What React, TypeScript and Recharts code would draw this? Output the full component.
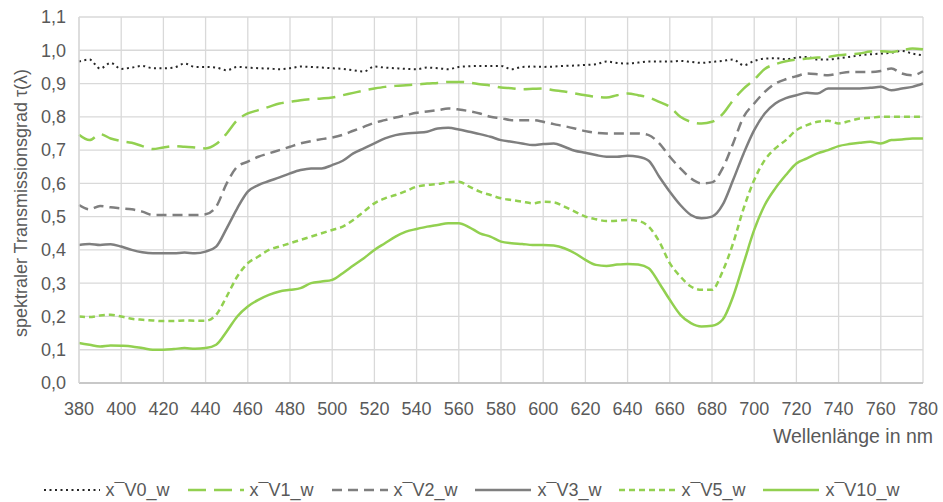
import { LineChart, Line, XAxis, YAxis, CartesianGrid, Label } from 'recharts'

const WAVELENGTHS = [
  380, 385, 390, 395, 400, 405, 410, 415, 420, 425, 430, 435, 440, 445, 450, 455, 460, 465, 470, 475,
  480, 485, 490, 495, 500, 505, 510, 515, 520, 525, 530, 535, 540, 545, 550, 555, 560, 565, 570, 575,
  580, 585, 590, 595, 600, 605, 610, 615, 620, 625, 630, 635, 640, 645, 650, 655, 660, 665, 670, 675,
  680, 685, 690, 695, 700, 705, 710, 715, 720, 725, 730, 735, 740, 745, 750, 755, 760, 765, 770, 775,
  780,
]

const V0 = [
  0.966, 0.972, 0.945, 0.962, 0.944, 0.948, 0.953, 0.946, 0.946, 0.948, 0.96, 0.95, 0.95, 0.948, 0.94, 0.95, 0.948, 0.946, 0.945, 0.943,
  0.946, 0.951, 0.95, 0.948, 0.946, 0.944, 0.94, 0.936, 0.951, 0.948, 0.946, 0.944, 0.943, 0.948, 0.946, 0.943, 0.95, 0.952, 0.953, 0.953,
  0.953, 0.943, 0.95, 0.951, 0.95, 0.951, 0.953, 0.954, 0.956, 0.958, 0.966, 0.962, 0.96, 0.963, 0.966, 0.966, 0.966, 0.968, 0.965, 0.962,
  0.965, 0.968, 0.972, 0.955, 0.968, 0.975, 0.976, 0.973, 0.978, 0.98, 0.972, 0.972, 0.976, 0.98, 0.985, 0.988, 0.99, 0.993, 0.998, 0.99,
  0.985,
]

const V1 = [
  0.746, 0.73, 0.748, 0.735, 0.727, 0.722, 0.712, 0.703, 0.708, 0.712, 0.71, 0.708, 0.705, 0.718, 0.75, 0.79, 0.81, 0.82, 0.83, 0.84,
  0.845, 0.85, 0.853, 0.855, 0.858, 0.865, 0.872, 0.879, 0.885, 0.89, 0.893, 0.895, 0.897, 0.9, 0.902, 0.905, 0.905, 0.903, 0.898, 0.894,
  0.888, 0.886, 0.883, 0.884, 0.885, 0.88, 0.876, 0.87, 0.865, 0.86, 0.858, 0.865, 0.87, 0.865, 0.858, 0.845, 0.83, 0.8, 0.785, 0.78,
  0.785, 0.808, 0.85, 0.885, 0.912, 0.944, 0.958, 0.967, 0.972, 0.975, 0.978, 0.98, 0.985, 0.988, 0.99, 0.996, 0.997, 0.995, 1.0, 1.005,
  1.003,
]

const V2 = [
  0.535, 0.522, 0.532, 0.528, 0.525, 0.522, 0.515, 0.505, 0.505, 0.505, 0.505, 0.505, 0.507, 0.53, 0.6, 0.65, 0.665, 0.68, 0.69, 0.7,
  0.71, 0.72, 0.727, 0.733, 0.738, 0.746, 0.758, 0.77, 0.782, 0.79, 0.798, 0.805, 0.812, 0.816, 0.82, 0.825, 0.822, 0.817, 0.81, 0.8,
  0.796, 0.79, 0.79, 0.79, 0.785, 0.778, 0.772, 0.765, 0.757, 0.752, 0.75, 0.75, 0.75, 0.75, 0.745, 0.72, 0.68, 0.645, 0.615, 0.6,
  0.603, 0.645, 0.72, 0.8, 0.84, 0.875, 0.9, 0.913, 0.922, 0.93, 0.928, 0.925, 0.93, 0.935, 0.935, 0.935, 0.938, 0.945, 0.93, 0.925,
  0.937,
]

const V3 = [
  0.415, 0.418, 0.415, 0.417, 0.41, 0.4, 0.393, 0.39, 0.39, 0.39, 0.392, 0.39, 0.395, 0.41, 0.465, 0.525, 0.575, 0.595, 0.607, 0.618,
  0.63, 0.64, 0.645, 0.645, 0.655, 0.668, 0.69, 0.705, 0.72, 0.735, 0.745, 0.75, 0.752, 0.755, 0.765, 0.767, 0.762, 0.755, 0.748, 0.74,
  0.73, 0.725, 0.72, 0.715, 0.718, 0.72, 0.71, 0.698, 0.692, 0.685, 0.68, 0.68, 0.683, 0.68, 0.668, 0.62, 0.575, 0.535, 0.505, 0.495,
  0.5, 0.535, 0.61, 0.69, 0.76, 0.81, 0.84, 0.856, 0.865, 0.872, 0.87, 0.885, 0.885, 0.885, 0.885, 0.887, 0.89, 0.88, 0.885, 0.89,
  0.9,
]

const V5 = [
  0.2, 0.198, 0.203, 0.205, 0.2, 0.193, 0.19, 0.188, 0.186, 0.186, 0.188, 0.187, 0.187, 0.205, 0.26, 0.32, 0.36, 0.38, 0.4, 0.41,
  0.42, 0.43, 0.44, 0.45, 0.46, 0.47, 0.49, 0.515, 0.54, 0.555, 0.565, 0.577, 0.59, 0.595, 0.598, 0.603, 0.605, 0.59, 0.575, 0.565,
  0.555, 0.55, 0.545, 0.54, 0.545, 0.543, 0.53, 0.515, 0.5, 0.492, 0.487, 0.488, 0.49, 0.487, 0.47, 0.425, 0.36, 0.32, 0.29, 0.28,
  0.28, 0.335, 0.42, 0.525, 0.61, 0.67, 0.705, 0.73, 0.76, 0.775, 0.785, 0.788, 0.78, 0.787, 0.795, 0.797, 0.8, 0.8, 0.8, 0.8,
  0.8,
]

const V10 = [
  0.12, 0.115, 0.11, 0.113, 0.112, 0.11, 0.105, 0.1, 0.1, 0.102, 0.105, 0.103, 0.105, 0.115, 0.155, 0.2, 0.23, 0.25, 0.265, 0.275,
  0.28, 0.285, 0.3, 0.305, 0.31, 0.33, 0.353, 0.375, 0.4, 0.42, 0.44, 0.455, 0.463, 0.47, 0.475, 0.48, 0.48, 0.468, 0.45, 0.44,
  0.425, 0.42, 0.418, 0.415, 0.415, 0.413, 0.405, 0.39, 0.37, 0.355, 0.352, 0.356, 0.358, 0.356, 0.345, 0.3, 0.25, 0.205, 0.18, 0.17,
  0.172, 0.19, 0.26, 0.36, 0.46, 0.535, 0.585, 0.625, 0.66, 0.675, 0.69, 0.7, 0.712, 0.718, 0.722, 0.725, 0.72, 0.73, 0.732, 0.735,
  0.735,
]

const X_TICKS = [380, 400, 420, 440, 460, 480, 500, 520, 540, 560, 580, 600, 620, 640, 660, 680, 700, 720, 740, 760, 780]
const Y_TICKS = [0, 0.1, 0.2, 0.3, 0.4, 0.5, 0.6, 0.7, 0.8, 0.9, 1.0, 1.1]

const GREEN = '#92D050'
const GRAY = '#7F7F7F'
const DARK = '#262626'
const TEXT = '#595959'
const FONT = '"Liberation Sans", Arial, sans-serif'

// legend labels use the spacing macron, as the original renders it
const SERIES = [
  { key: 'v0', name: 'x\u00AFV0_w', color: DARK, dash: '2 3.5', width: 2 },
  { key: 'v1', name: 'x\u00AFV1_w', color: GREEN, dash: '18 8', width: 2.5 },
  { key: 'v2', name: 'x\u00AFV2_w', color: GRAY, dash: '10 6', width: 2.5 },
  { key: 'v3', name: 'x\u00AFV3_w', color: GRAY, dash: undefined, width: 2.5 },
  { key: 'v5', name: 'x\u00AFV5_w', color: GREEN, dash: '6 4', width: 2.5 },
  { key: 'v10', name: 'x\u00AFV10_w', color: GREEN, dash: undefined, width: 2.5 },
]

const data = WAVELENGTHS.map((w, i) => ({
  w,
  v0: V0[i],
  v1: V1[i],
  v2: V2[i],
  v3: V3[i],
  v5: V5[i],
  v10: V10[i],
}))

const fmt = (v: number) => v.toFixed(1).replace('.', ',')

export default function App() {
  return (
    <div style={{ position: 'fixed', left: 0, top: 0, width: 943, height: 502, background: '#fff', fontFamily: FONT }}>
      <LineChart width={943} height={460} data={data} margin={{ top: 17, right: 20, left: 0, bottom: 27 }}>
        <CartesianGrid stroke="#D9D9D9" strokeWidth={1.3} />
        <XAxis
          dataKey="w"
          type="number"
          domain={[380, 780]}
          ticks={X_TICKS}
          interval={0}
          height={50}
          axisLine={{ stroke: '#BFBFBF', strokeWidth: 1.3 }}
          tickLine={false}
          tickSize={8}
          tickMargin={11}
          tick={{ fill: TEXT, fontSize: 18, fontFamily: FONT }}
        >
          <Label
            content={() => (
              <text x={933} y={443} textAnchor="end" fill={TEXT} fontSize={19.5} fontFamily={FONT}>
                Wellenlänge in nm
              </text>
            )}
          />
        </XAxis>
        <YAxis
          type="number"
          domain={[0, 1.1]}
          ticks={Y_TICKS}
          interval={0}
          width={79}
          axisLine={{ stroke: '#D9D9D9', strokeWidth: 1.3 }}
          tickLine={false}
          tickSize={5}
          tickMargin={8}
          tickFormatter={fmt}
          tick={{ fill: TEXT, fontSize: 18, fontFamily: FONT }}
        >
          <Label
            content={() => (
              <text
                x={27}
                y={203}
                transform="rotate(-90, 27, 203)"
                textAnchor="middle"
                fill={TEXT}
                fontSize={18}
                fontFamily={FONT}
              >
                spektraler Transmissionsgrad τ(λ)
              </text>
            )}
          />
        </YAxis>
        {SERIES.map((s) => (
          <Line
            key={s.key}
            dataKey={s.key}
            name={s.name}
            type="monotone"
            stroke={s.color}
            strokeWidth={s.width}
            strokeDasharray={s.dash}
            dot={false}
            activeDot={false}
            isAnimationActive={false}
          />
        ))}
      </LineChart>
      <div
        style={{
          position: 'absolute',
          left: 0,
          top: 478,
          width: 943,
          display: 'flex',
          justifyContent: 'center',
          alignItems: 'center',
          gap: 18,
          color: TEXT,
          fontSize: 18,
          lineHeight: '24px',
        }}
      >
        {SERIES.map((s) => (
          <div key={s.key} style={{ display: 'flex', alignItems: 'center', gap: 6 }}>
            <svg width={56} height={10}>
              <line x1={0} y1={5} x2={56} y2={5} stroke={s.color} strokeWidth={s.width} strokeDasharray={s.dash} />
            </svg>
            <span>{s.name}</span>
          </div>
        ))}
      </div>
    </div>
  )
}
